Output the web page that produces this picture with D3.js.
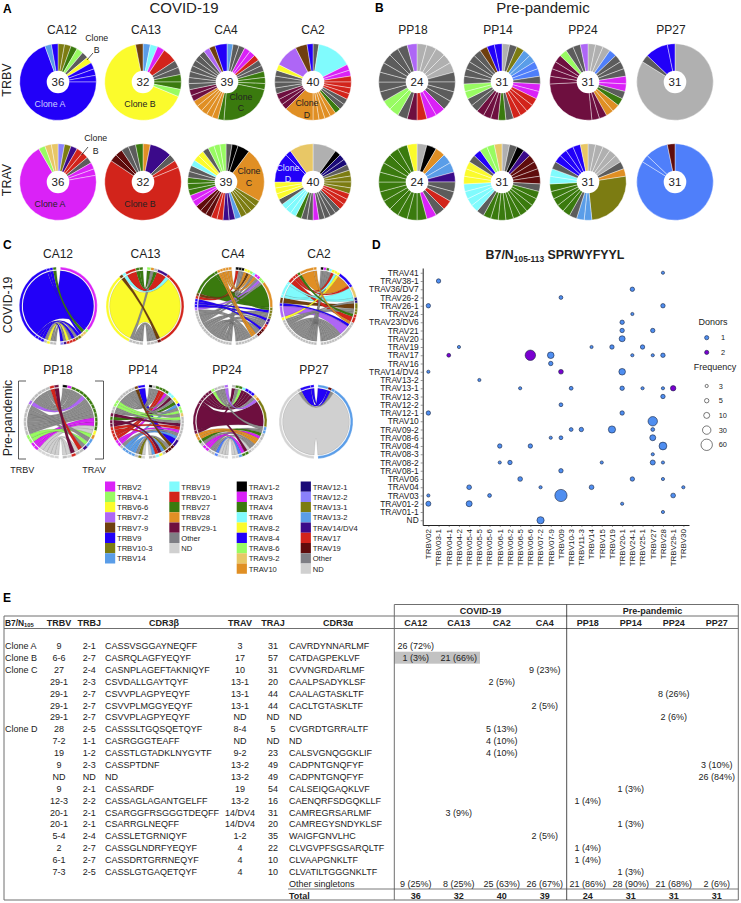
<!DOCTYPE html>
<html><head><meta charset="utf-8">
<script src="https://cdn.jsdelivr.net/npm/d3@7"></script>
<style>
html,body{margin:0;padding:0;background:#fff}
svg{display:block}
text{font-family:"Liberation Sans",Arial,sans-serif;fill:#222}
</style></head><body><svg id="c" width="741" height="903"></svg>
<script>
// ---------- DATA ----------
const covidDonors = ["CA12","CA13","CA4","CA2"];
const prepanDonors = ["PP18","PP14","PP24","PP27"];
const clonotypeTotals = [36,32,39,40,24,31,31,31];
// pie slices clockwise from 12 o'clock: letter = gene colour, number = clonotype count (default 1)
const trbvPies = [
 "OOGLDYBBBB25TB","TCMR2DDGGLY21N","TDDMMRDDGGGG9GEEEEEVVDDDDDDDPNB2","DC6MMRRRRDDGEEEEE5VVVDDDDYP4N2B",
 "AAAAADDDDMMRVDLLDDDDDDDP","ADOTTFFDMMRRRRDGVVVDDLLDDDDDNBB","AAAFDDDMMDGEEVVV8VVVVLDDP","A26DB3B"];
const travPies = [
 "QOIRRDMMM25LHH","EI3DRR21XXDDG","DKK2E9OOOOTIIRRXXXMMGGGDDCYYDLLL","A4KWWDOOOORRRDDDDMDDGCCCDYYYB5BH4",
 "AKETTIDDRDMGGGGGGGGGGGGY","ADKIXXXXDGGGGGGGGGDCCCCYYYDBLLH","AAAAADEO8TTDGGGGGCCDBBBBH","F26FF3X"];
const trbvLegend = [["M","TRBV2"],["L","TRBV4-1"],["Y","TRBV6-6"],["P","TRBV7-2"],["N","TRBV7-9"],["B","TRBV9"],["O","TRBV10-3"],["T","TRBV14"],
 ["C","TRBV19"],["R","TRBV20-1"],["G","TRBV27"],["E","TRBV28"],["V","TRBV29-1"],["D","Other"],["A","ND"]];
const travLegend = [["K","TRAV1-2"],["M","TRAV3"],["G","TRAV4"],["C","TRAV6"],["Y","TRAV8-2"],["B","TRAV8-4"],["L","TRAV8-6"],["H","TRAV9-2"],["E","TRAV10"],
 ["W","TRAV12-1"],["Q","TRAV12-2"],["O","TRAV13-1"],["T","TRAV13-2"],["I","TRAV14/DV4"],["R","TRAV17"],["X","TRAV19"],["D","Other"],["A","ND"]];
// chord links: first letter TRBV gene, second TRAV gene, number clonotype count; listed clockwise on the TRBV (left) side from the bottom
const chordLinks = [
 "DO DI YR DR BQ BO BR BM26 BL BH GH",
 "DD DD DD DE YR21 NX CR RI3 GD GL",
 "DK DK DX DD DD DX DR DR DD DD DO DO DI DL DC DM DD DD PL BI BO BX RK NY GE9 GO ED ED EY EL EM",
 "DK DM DG DC DD DD DD DD DD DD DD DD DW DO DO YY PD4 BD NO2 CY CH4 CW RR2 RY RB GR EB5 ED",
 "AD AA AD AG AY MG MG LE LT DG DG DG DG DG DI DT PG DG DG DM DK DG RD VR",
 "AD OX DX TD TD TB TD DD MG MD RG RG RC RD VC VY GY VD DY DD LD LL DK DD DG DC DL DH NX BI2",
 "AA AA AD FT DA DT MD MG DA GD EA EA VD VO8 VG VC VB VB VB LG DG DT DH PE",
 "AT26 DT BT3 BX"];
// TRAV slots clockwise from the top of the right side
const chordTravOrder = [
 "MLHHOORRRIQ","LEDIRRXDDDD","KKKYYLCMMLLEOOOOIIRRXXXDDDDDDDD","KMGCYYYBBHWWOOOORRRDDDDDDDDDDDDDD",
 "KMGGGGGGGGGGGGYETTIDDRAD","KDGGGGCCYYBLLHDDDDDDDIXXXDA","DGGCBBBHEOTTDDAAAAD","TX"];
const travRows = ["TRAV41","TRAV38-1","TRAV36/DV7","TRAV26-2","TRAV26-1","TRAV24","TRAV23/DV6","TRAV21","TRAV20","TRAV19","TRAV17","TRAV16","TRAV14/DV4","TRAV13-2","TRAV13-1","TRAV12-3","TRAV12-2","TRAV12-1","TRAV10","TRAV09-2","TRAV08-6","TRAV08-4","TRAV08-3","TRAV08-2","TRAV08-1","TRAV06","TRAV04","TRAV03","TRAV01-2","TRAV01-1","ND"];
const trbvCols = ["TRBV02","TRBV03-1","TRBV04-1","TRBV04-2","TRBV05-4","TRBV05-5","TRBV05-6","TRBV06-1","TRBV06-2","TRBV06-5","TRBV06-6","TRBV07-2","TRBV07-9","TRBV09","TRBV10-3","TRBV11-3","TRBV14","TRBV15","TRBV19","TRBV20-1","TRBV24-1","TRBV25-1","TRBV27","TRBV28","TRBV29-1","TRBV30"];
// [TRAV, TRBV, frequency, donors]
const dotPoints = [
 ["TRAV41","TRBV28",3,1],["TRAV38-1","TRBV03-1",5,1],["TRAV36/DV7","TRBV24-1",5,1],["TRAV26-2","TRBV09",4,1],["TRAV26-1","TRBV02",5,1],["TRAV26-1","TRBV28",5,1],
 ["TRAV24","TRBV24-1",3,1],["TRAV23/DV6","TRBV20-1",5,1],["TRAV21","TRBV20-1",5,1],["TRAV21","TRBV27",5,1],["TRAV20","TRBV20-1",10,1],
 ["TRAV19","TRBV04-2",3,1],["TRAV19","TRBV14",3,1],["TRAV19","TRBV19",5,1],["TRAV19","TRBV25-1",5,1],
 ["TRAV17","TRBV04-1",4,2],["TRAV17","TRBV06-6",50,2],["TRAV17","TRBV07-9",15,1],["TRAV17","TRBV24-1",3,1],["TRAV17","TRBV27",3,1],["TRAV17","TRBV28",5,1],
 ["TRAV16","TRBV07-9",5,1],["TRAV14/DV4","TRBV02",3,1],["TRAV14/DV4","TRBV09",6,2],["TRAV14/DV4","TRBV20-1",15,1],["TRAV13-2","TRBV05-5",3,1],
 ["TRAV13-1","TRBV06-5",3,1],["TRAV13-1","TRBV10-3",4,1],["TRAV13-1","TRBV20-1",5,1],["TRAV13-1","TRBV25-1",3,1],["TRAV13-1","TRBV28",3,1],["TRAV13-1","TRBV29-1",8,2],
 ["TRAV12-3","TRBV28",5,1],["TRAV12-2","TRBV09",4,1],["TRAV12-1","TRBV02",5,1],["TRAV12-1","TRBV20-1",5,1],["TRAV10","TRBV27",40,1],
 ["TRAV09-2","TRBV10-3",4,1],["TRAV09-2","TRBV11-3",5,1],["TRAV09-2","TRBV19",20,1],["TRAV09-2","TRBV27",4,1],
 ["TRAV08-6","TRBV07-9",3,1],["TRAV08-6","TRBV09",4,1],["TRAV08-6","TRBV27",10,1],["TRAV08-4","TRBV06-1",5,1],["TRAV08-4","TRBV06-6",5,1],["TRAV08-4","TRBV28",25,1],
 ["TRAV08-3","TRBV27",3,1],["TRAV08-2","TRBV06-1",3,1],["TRAV08-2","TRBV06-2",5,1],["TRAV08-2","TRBV15",3,1],["TRAV08-2","TRBV27",7,1],["TRAV08-2","TRBV28",3,1],
 ["TRAV08-1","TRBV09",5,1],["TRAV06","TRBV06-5",6,1],["TRAV06","TRBV24-1",5,1],["TRAV06","TRBV28",3,1],
 ["TRAV04","TRBV05-4",6,1],["TRAV04","TRBV07-2",3,1],["TRAV04","TRBV14",6,1],["TRAV04","TRBV30",3,1],
 ["TRAV03","TRBV02",3,1],["TRAV03","TRBV05-6",4,1],["TRAV03","TRBV09",70,1],["TRAV03","TRBV29-1",6,1],
 ["TRAV01-2","TRBV02",7,1],["TRAV01-2","TRBV05-4",10,1],["TRAV01-2","TRBV20-1",3,1],["TRAV01-1","TRBV28",3,1],["ND","TRBV07-2",20,1]];
const donorLegend = [1,2];
const freqLegend = [3,5,10,30,60];
const tableDonors = ["CA12","CA13","CA2","CA4","PP18","PP14","PP24","PP27"];
const tblClone = ["Clone A","Clone B","Clone C","","","","","Clone D","","","","","","","","","","","","","",""];
const tblTrbv = ["9","6-6","27","29-1","29-1","29-1","29-1","28","7-2","19","9","ND","9","12-3","20-1","20-1","5-4","2","6-1","7-3"];
const tblTrbj = ["2-1","2-7","2-4","2-3","2-7","2-7","2-7","2-5","1-1","1-2","2-3","ND","2-1","2-2","2-1","2-1","2-4","2-7","2-7","2-5"];
const tblCdr3b = ["CASSVSGGAYNEQFF","CASRQLAGFYEQYF","CASNPLAGEFTAKNIQYF","CSVDALLGAYTQYF","CSVVPLAGPYEQYF","CSVVPLMGGYEQYF","CSVVPLAGPYEQYF","CASSSLTGQSQETQYF","CASRGGGTEAFF","CASSTLGTADKLNYGYTF","CASSPTDNF","ND","CASSARDF","CASSAGLAGANTGELFF","CSARGGFRSGGGTDEQFF","CSARRGLNEQFF","CASSLETGRNIQYF","CASSGLNDRFYEQYF","CASSDRTGRRNEQYF","CASSLGTGAQETQYF"];
const tblTrav = ["3","17","10","13-1","13-1","13-1","ND","8-4","ND","9-2","13-2","13-2","19","13-2","14/DV4","14/DV4","1-2","4","4","4"];
const tblTraj = ["31","57","31","20","44","44","ND","5","ND","23","49","49","54","16","31","20","35","22","10","10"];
const tblCdr3a = ["CAVRDYNNARLMF","CATDAGPEKLVF","CVVNGRDARLMF","CAALPSADYKLSF","CAALAGTASKLTF","CACLTGTASKLTF","ND","CVGRDTGRRALTF","ND","CALSVGNQGGKLIF","CADPNTGNQFYF","CADPNTGNQFYF","CALSEIQGAQKLVF","CAENQRFSDGQKLLF","CAMREGRSARLMF","CAMREGYSNDYKLSF","WAIGFGNVLHC","CLVGVPFSGSARQLTF","CLVAAPGNKLTF","CLVATILTGGGNKLTF"];
// [row, donor, count, percent]
const tblCounts = [[0,"CA12",26,72],[1,"CA12",1,3],[1,"CA13",21,66],[2,"CA4",9,23],[3,"CA2",2,5],[4,"PP24",8,26],[5,"CA4",2,5],[6,"PP24",2,6],[7,"CA2",5,13],[8,"CA2",4,10],[9,"CA2",4,10],[10,"PP27",3,10],[11,"PP27",26,84],[12,"PP14",1,3],[13,"PP18",1,4],[14,"CA13",3,9],[15,"PP14",1,3],[16,"CA4",2,5],[17,"PP18",1,4],[18,"PP18",1,4],[19,"PP14",1,3]];
const tblSingletons = [[9,25],[8,25],[25,63],[26,67],[21,86],[28,90],[21,68],[2,6]];
const tblTotals = [36,32,40,39,24,31,31,31];

// ---------- STYLE ----------
const gene = {M:"#da22f7",L:"#98fb62",Y:"#fbfb2c",P:"#ae66f6",N:"#6f3f0e",B:"#2200f8",O:"#7c7c12",T:"#5a9de8",F:"#4f7ffa",C:"#80fbfd",R:"#d2241b",G:"#3a7a0e",E:"#e08f24",V:"#6e0f3f",K:"#000000",H:"#e8c766",W:"#1a0a78",Q:"#8a80fb",I:"#3b0a8a",X:"#5f0c0c"};
const pieColor = k => k==="D"?"#5c5c5c":k==="A"?"#b0b0b0":gene[k];
const ribbonColor = k => k==="D"?"#8c8c8c":k==="A"?"#d0d0d0":gene[k];
const ringColor = k => k==="D"?"#bcbcbc":k==="A"?"#d4d4d4":gene[k];
const legendColor = k => k==="D"?"#7f7f85":k==="A"?"#d0d0d0":gene[k];

const svg = d3.select("#c");
const txt = (x,y,s,size,o={}) => {
  const t = svg.append("text").attr("x",x).attr("y",y).attr("font-size",size).attr("text-anchor",o.a||"middle")
    .attr("font-weight",o.w||null).text(s);
  if(o.fill) t.style("fill",o.fill);
  if(o.rot) t.attr("transform",`rotate(${o.rot} ${x} ${y})`);
  return t;
};
const parseSlices = s => Array.from(s.matchAll(/([A-Z])(\d*)/g),m=>({k:m[1],n:+(m[2]||1)}));
const parseLinks = s => Array.from(s.matchAll(/([A-Z])([A-Z])(\d*)/g),m=>({b:m[1],a:m[2],n:+(m[3]||1)}));

// ---------- PANEL LETTERS & TITLES ----------
[["A",3,13],["B",375,12],["C",3,249],["D",372,249],["E",3,602]].forEach(d=>txt(d[1],d[2],d[0],12,{a:"start",w:"bold"}).style("fill","#000"));
txt(184,13,"COVID-19",15);
txt(543,13,"Pre-pandemic",15);

// ---------- PIES ----------
const pieGen = d3.pie().sort(null).value(d=>d.n);
const pieArc = d3.arc().innerRadius(0).outerRadius(38.3);
function drawPie(cx,cy,spec,total){
  const g = svg.append("g").attr("transform",`translate(${cx},${cy})`);
  g.selectAll("path").data(pieGen(parseSlices(spec))).join("path")
    .attr("d",pieArc).attr("fill",d=>pieColor(d.data.k)).attr("stroke","#fff").attr("stroke-width",0.4);
  g.append("circle").attr("r",11.3).attr("fill","#fff");
  g.append("text").attr("text-anchor","middle").attr("dy",4.2).attr("font-size",11.5).text(total);
}
const pieX1=[58,143,227,313], pieX2=[58,143,226,313], pieXB=[417,502,588,675];
[0,1,2,3].forEach(i=>{
  drawPie(pieX1[i],82,trbvPies[i],clonotypeTotals[i]);
  drawPie(pieX2[i],182,travPies[i],clonotypeTotals[i]);
  txt([62,146,226,313][i],34,covidDonors[i],12);
  drawPie(pieXB[i],82,trbvPies[i+4],clonotypeTotals[i+4]);
  drawPie(pieXB[i],182,travPies[i+4],clonotypeTotals[i+4]);
  txt([413,498,583,671][i],34,prepanDonors[i],12);
});
txt(11,80,"TRBV",12.5,{rot:-90}); txt(11,180,"TRAV",12.5,{rot:-90});
// clone labels
[[50,107,"Clone A","#cfd0ff"],[140,107,"Clone B"],[241,100,"Clone"],[241,111,"C"],[307,106,"Clone"],[307,118,"D"],
 [50,207,"Clone A"],[140,207,"Clone B"],[249,174,"Clone"],[249,186,"C"],[288,171,"Clone","#dfe0ff"],[288,182,"D","#dfe0ff"],
 [96.7,41,"Clone"],[96.7,53,"B"],[95.7,141,"Clone"],[95.7,153.5,"B"]].forEach(d=>txt(d[0],d[1],d[2],8.8,{fill:d[3]}));
[[93,53,87,60],[88,147,81.5,155]].forEach(d=>svg.append("line").attr("x1",d[0]).attr("y1",d[1]).attr("x2",d[2]).attr("y2",d[3]).attr("stroke","#111").attr("stroke-width",.7));

// ---------- CHORDS ----------
const ribbon = d3.ribbon();
function drawChord(cx,cy,R,linksStr,order){
  const g = svg.append("g").attr("transform",`translate(${cx},${cy})`);
  const links = parseLinks(linksStr);
  const total = d3.sum(links,d=>d.n);
  const gap = 0.055;
  // right-side slots: each letter of the order takes the next unused link for that gene, starting from the top of the left side
  const pool = links.slice().reverse();
  const right = [];
  for(const ch of order){
    const i = pool.findIndex(l=>l.a===ch);
    if(i>=0){ right.push(pool[i]); pool.splice(i,1); }
  }
  right.push(...pool);
  const sL = d3.scaleLinear().domain([0,total]).range([Math.PI+gap,2*Math.PI-gap]);
  const sR = d3.scaleLinear().domain([0,total]).range([gap,Math.PI-gap]);
  let c=0; links.forEach(l=>{l.s0=sL(c);c+=l.n;l.s1=sL(c);});
  c=0; right.forEach(l=>{l.t0=sR(c);c+=l.n;l.t1=sR(c);});
  const rr = R-3.6;
  g.selectAll("path.rb").data(links.slice().sort((x,y)=>y.n-x.n)).join("path").attr("class","rb")
    .attr("d",l=>ribbon({source:{startAngle:l.s0,endAngle:l.s1,radius:rr},target:{startAngle:l.t0,endAngle:l.t1,radius:rr}}))
    .attr("fill",l=>ribbonColor(l.b)).attr("stroke","#333").attr("stroke-opacity",.55).attr("stroke-width",.25);
  const ring = d3.arc().innerRadius(R-2.6).outerRadius(R);
  g.selectAll("path.l").data(links).join("path").attr("class","l")
    .attr("d",l=>ring({startAngle:l.s0,endAngle:l.s1})).attr("fill",l=>ringColor(l.b)).attr("stroke","#fff").attr("stroke-width",.3);
  g.selectAll("path.r").data(links).join("path").attr("class","r")
    .attr("d",l=>ring({startAngle:l.t0,endAngle:l.t1})).attr("fill",l=>ringColor(l.a)).attr("stroke","#fff").attr("stroke-width",.3);
}
const chX1=[58.3,145,233.7,318.7], chX2=[60.7,147,230,316];
[0,1,2,3].forEach(i=>{
  drawChord(chX1[i],306,39,chordLinks[i],chordTravOrder[i]);
  drawChord(chX2[i],421.7,37,chordLinks[i+4],chordTravOrder[i+4]);
  txt([58,145.5,233,319][i],258,covidDonors[i],12);
  txt([58,143,227,314][i],373.5,prepanDonors[i],12);
});
txt(12,305,"COVID-19",12.3,{rot:-90}); txt(12,418,"Pre-pandemic",12.3,{rot:-90});
[[26,18.5],[95,103.5]].forEach(d=>svg.append("path").attr("fill","none").attr("stroke","#333").attr("stroke-width",.8)
  .attr("d",d3.line()([[d[0],381],[d[1],381],[d[1],459],[d[0],459]])));
txt(22.3,473,"TRBV",9); txt(94,473,"TRAV",9);

// legend
function legendCol(items,x,y0){
  items.forEach((d,i)=>{
    const y=y0+i*10.25;
    svg.append("rect").attr("x",x).attr("y",y).attr("width",10.2).attr("height",10.25).attr("fill",legendColor(d[0]));
    txt(x+12,y+8,d[1],7.6,{a:"start"});
  });
}
legendCol(trbvLegend.slice(0,8),105,481.5);
legendCol(trbvLegend.slice(8),169.3,481.5);
legendCol(travLegend.slice(0,9),236.7,481.5);
legendCol(travLegend.slice(9),300.7,481.5);

// ---------- DOT PLOT ----------
const xD = d3.scalePoint().domain(trbvCols).range([422.7,689]).padding(.554);
const yD = d3.scalePoint().domain(travRows).range([268,525]).padding(.576);
const rD = d3.scaleLinear().domain([3,5,10,30,60,70]).range([1.6,2.2,3,4.2,5.7,6.1]);
const cD = d3.scaleOrdinal().domain(donorLegend).range(["#4f8ef0","#7a00d0"]);
const gy = svg.append("g").attr("transform","translate(422.7,0)").call(d3.axisLeft(yD).tickSize(2).tickSizeOuter(0));
const gx = svg.append("g").attr("transform","translate(0,525)").call(d3.axisBottom(xD).tickSize(2).tickSizeOuter(0));
gy.selectAll("text").attr("font-size",8.4).attr("dx",1).attr("font-family",null);
gx.selectAll("text").attr("font-size",8).attr("text-anchor","end").attr("transform","rotate(-90)").attr("x",-4).attr("y",-0.5).attr("dy","0.35em").attr("font-family",null);
[gy,gx].forEach(g=>{g.selectAll(".domain").attr("stroke","#222").attr("stroke-width",1);g.selectAll(".tick line").attr("stroke","#333").attr("stroke-width",.5);g.attr("font-family",null);});
svg.selectAll("circle.dt").data(dotPoints).join("circle").attr("class","dt")
  .attr("cx",d=>xD(d[1])).attr("cy",d=>yD(d[0])).attr("r",d=>rD(d[2])).attr("fill",d=>cD(d[3])).attr("stroke","#16233f").attr("stroke-width",.6);
const dTitle = txt(555,259,"",12.4,{w:"bold"});
dTitle.append("tspan").text("B7/N");
dTitle.append("tspan").attr("font-size",8.4).attr("dy",2.5).text("105-113");
dTitle.append("tspan").attr("dy",-2.5).text(" SPRWYFYYL");
txt(713,325,"Donors",9);
donorLegend.forEach((d,i)=>{
  svg.append("circle").attr("cx",706.7).attr("cy",337.7+i*14.7).attr("r",2.1).attr("fill",cD(d)).attr("stroke","#16233f").attr("stroke-width",.6);
  txt(721,340.4+i*14.7,d,7.4,{a:"start"});
});
txt(715,370,"Frequency",9);
freqLegend.forEach((d,i)=>{
  svg.append("circle").attr("cx",706.7).attr("cy",386+i*14.7).attr("r",rD(d)).attr("fill","#fff").attr("stroke","#222").attr("stroke-width",.6);
  txt(718.7,388.6+i*14.7,d,7.4,{a:"start"});
});

// ---------- TABLE ----------
const rowY = d3.scaleLinear().domain([0,21]).range([646,895.7]);
const colX = d3.scalePoint().domain(tableDonors).range([415.7,716.7]);
svg.append("rect").attr("x",394.3).attr("y",651.7).attr("width",85.7).attr("height",12).attr("fill","#c2c2c2");
const hl=(x1,y1,x2,y2,c="#6f6f6f",w=1)=>svg.append("line").attr("x1",x1).attr("y1",y1).attr("x2",x2).attr("y2",y2).attr("stroke",c).attr("stroke-width",w);
hl(394.3,604.5,738.3,604.5); hl(4,616,738.3,616); hl(4,628.5,738.3,628.5); hl(4,900,738.3,900);
hl(4,616,4,900); hl(394.3,604.5,394.3,900); hl(738.3,604.5,738.3,900); hl(566.7,604.5,566.7,900,"#222",.8);
hl(288,889,738.3,889,"#555",.8);
const hdr=(x,s,a)=>txt(x,626,s,9,{w:"bold",a});
const bh = txt(5,625.5,"B7/N",8.4,{a:"start",w:"bold"}); bh.append("tspan").attr("font-size",5.8).attr("dy",1.8).text("105");
hdr(59,"TRBV"); hdr(89.3,"TRBJ"); hdr(164,"CDR3β"); hdr(240,"TRAV"); hdr(273,"TRAJ"); hdr(338,"CDR3α");
txt(480.5,614,"COVID-19",9,{w:"bold"}); txt(652.5,614,"Pre-pandemic",9,{w:"bold"});
tableDonors.forEach(d=>hdr(colX(d),d));
const rowText = (y,s,x,a)=>txt(x,y+3.1,s,9,{a});
tblTrbv.forEach((v,i)=>{
  const y=rowY(i);
  if(tblClone[i]) rowText(y,tblClone[i],5,"start");
  rowText(y,v,59); rowText(y,tblTrbj[i],89.3);
  rowText(y,tblCdr3b[i],105,"start"); rowText(y,tblTrav[i],240); rowText(y,tblTraj[i],273);
  rowText(y,tblCdr3a[i],289,"start");
});
tblCounts.forEach(d=>rowText(rowY(d[0]),`${d[2]} (${d[3]}%)`,colX(d[1])));
rowText(rowY(20),"Other singletons",289,"start");
tblSingletons.forEach((d,i)=>rowText(rowY(20),`${d[0]} (${d[1]}%)`,colX(tableDonors[i])));
txt(289,rowY(21)+3.1,"Total",9,{a:"start",w:"bold"});
tblTotals.forEach((d,i)=>txt(colX(tableDonors[i]),rowY(21)+3.1,d,9,{w:"bold"}));
</script></body></html>
